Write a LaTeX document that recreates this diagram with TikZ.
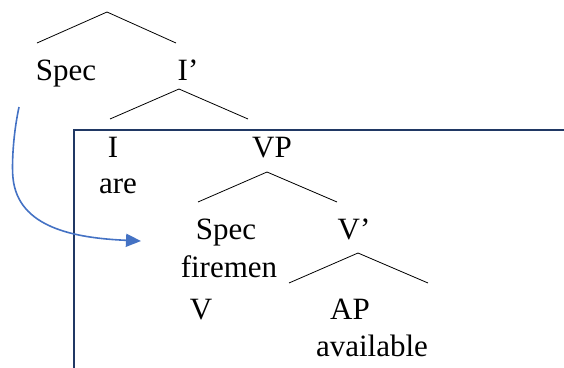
\documentclass[tikz,border=0pt]{standalone}
\usepackage{fontspec}
\setmainfont{Liberation Serif}
\usetikzlibrary{arrows.meta}
\definecolor{boxblue}{HTML}{203864}
\definecolor{movblue}{HTML}{4472C4}

\begin{document}
\begin{tikzpicture}[x=1pt, y=-1pt,
    lbl/.style = {anchor=base, inner sep=0pt,
      font=\fontsize{31}{36}\selectfont},
    branch/.style = {line width=0.8pt},
    frame/.style = {draw=boxblue, line width=2pt},
    move/.style = {draw=movblue, line width=1.6pt,
      -{Triangle[length=15pt, width=13pt]}},
  ]
\useasboundingbox (0,0) rectangle (564,367);
% box round the lower part
\draw[frame] (570,129.5) -- (74,129.5) -- (74,372);
% labels
\node[lbl] (specA) at (66,80)   {Spec};
\node[lbl] (ibar)  at (188,80)  {I’};
\node[lbl] (infl)  at (113,157) {I};
\node[lbl] (are)   at (118,193) {are};
\node[lbl] (vp)    at (272,157) {VP};
\node[lbl] (specB) at (226,239) {Spec};
\node[lbl] (vbar)  at (354,239) {V’};
\node[lbl] (fire)  at (229,277) {firemen};
\node[lbl] (verb)  at (201,319) {V};
\node[lbl] (ap)    at (350,319) {AP};
\node[lbl] (avail) at (372,356) {available};
% branch points
\coordinate (ipTop) at (107,12);
\coordinate (ipL)   at (37,43);
\coordinate (ipR)   at (176,43);
\coordinate (ibTop) at (179,89);
\coordinate (ibL)   at (110,119);
\coordinate (ibR)   at (248,119);
\coordinate (vpTop) at (267,172);
\coordinate (vpL)   at (198,202);
\coordinate (vpR)   at (337,202);
\coordinate (vbTop) at (358,253);
\coordinate (vbL)   at (289,283);
\coordinate (vbR)   at (428,283);
\draw[branch] (ipL) -- (ipTop) -- (ipR);
\draw[branch] (ibL) -- (ibTop) -- (ibR);
\draw[branch] (vpL) -- (vpTop) -- (vpR);
\draw[branch] (vbL) -- (vbTop) -- (vbR);
% movement arrow
\coordinate (mvStart) at (19,107);
\coordinate (mvEnd)   at (141,241);
\draw[move] (mvStart) .. controls (12,140) and (12,170) .. (13,178)
  .. controls (18,228) and (75,238) .. (mvEnd);
\end{tikzpicture}
\end{document}
